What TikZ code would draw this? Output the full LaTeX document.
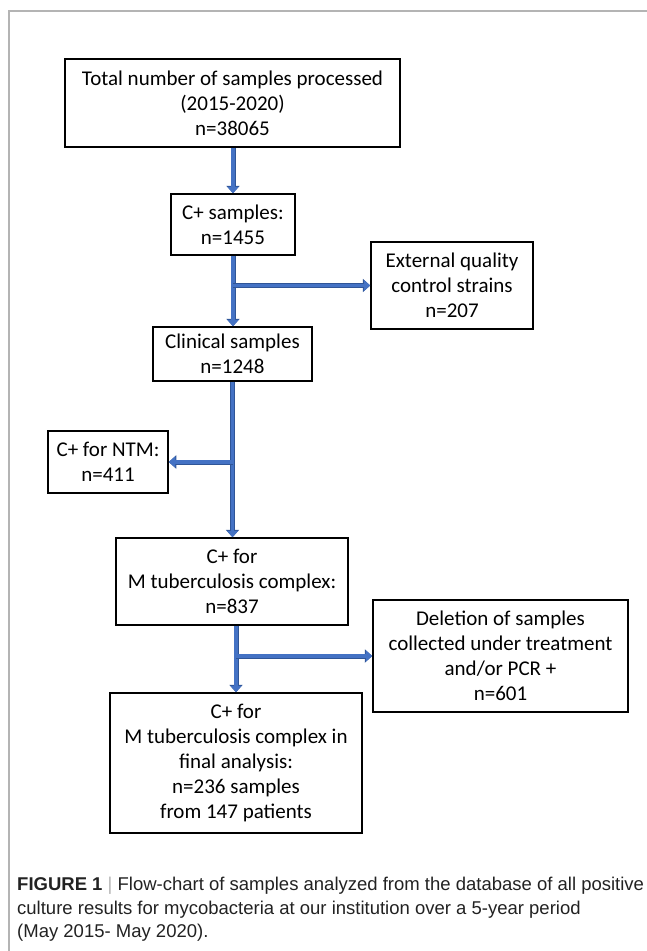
\documentclass[tikz,border=0pt]{standalone}
\usepackage{fontspec}
\setmainfont{Carlito}
\newfontfamily\capfont{Liberation Sans}
\usetikzlibrary{arrows.meta}
\definecolor{arrowblue}{HTML}{4472C4}
\definecolor{arrowdark}{HTML}{2F5597}
\definecolor{framegray}{HTML}{B4B4B4}
\definecolor{captext}{HTML}{222222}
\tikzset{
  box/.style={draw=black, line width=1.5pt, inner sep=0pt, align=center,
    font=\fontsize{21}{25}\selectfont},
  flow/.style={draw=arrowblue, line width=3.4pt,
    -{Triangle[width=11pt,length=6.5pt]},
    preaction={draw=arrowdark, line width=5pt,
      -{Triangle[width=13pt,length=7.5pt]}}},
  capline/.style={anchor=west, inner sep=0pt, text=captext,
    font=\capfont\fontsize{18.5}{22}\selectfont}
}
\begin{document}
\begin{tikzpicture}[x=1pt,y=-1pt]
\useasboundingbox (0,0) rectangle (647,951);
\draw[framegray, line width=1.3pt] (9,951) -- (9,11) -- (647,11);

\node[box, minimum width=335pt, minimum height=88pt] (b1) at (232.5,103)
  {Total number of samples processed\\(2015-2020)\\n=38065};
\node[box, minimum width=124pt, minimum height=61pt] (b2) at (233,224.5)
  {C+ samples:\\n=1455};
\node[box, minimum width=162pt, minimum height=87pt] (b4) at (452,285.5)
  {External quality\\control strains\\n=207};
\node[box, minimum width=159pt, minimum height=54pt] (b3) at (232.5,354)
  {Clinical samples\\n=1248};
\node[box, minimum width=120pt, minimum height=62pt] (b5) at (108,462)
  {C+ for NTM:\\n=411};
\node[box, minimum width=232pt, minimum height=87pt] (b6) at (232,581.5)
  {C+ for\\M tuberculosis complex:\\n=837};
\node[box, minimum width=255pt, minimum height=112pt] (b8) at (500.5,656)
  {Deletion of samples\\collected under treatment\\and/or PCR +\\n=601};
\node[box, minimum width=252pt, minimum height=140pt] (b7) at (236,763)
  {C+ for\\M tuberculosis complex in\\final analysis:\\n=236 samples\\from 147 patients};

\draw[flow] (b2.north |- b1.south) -- (b2.north);
\draw[flow] (b2.south) -- (b2.south |- b3.north);
\draw[flow] (b2.south |- b4.west) -- (b4.west);
\draw[flow] (b3.south) -- (b3.south |- b6.north);
\draw[flow] (b3.south |- b5.east) -- (b5.east);
\draw[flow] (b7.north |- b6.south) -- (b7.north);
\draw[flow] (b7.north |- b8.west) -- (b8.west);

\node[capline] (c1) at (17,886) {\textbf{FIGURE 1} {\color{framegray}|} Flow-chart of samples analyzed from the database of all positive};
\node[capline] (c2) at (17,910) {culture results for mycobacteria at our institution over a 5-year period};
\node[capline] (c3) at (17,933) {(May 2015- May 2020).};
\end{tikzpicture}
\end{document}
